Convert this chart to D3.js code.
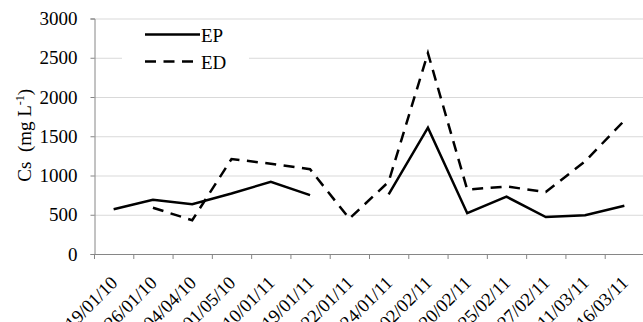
<!DOCTYPE html>
<html>
<head>
<meta charset="utf-8">
<script src="https://cdn.jsdelivr.net/npm/d3@7"></script>
<style>
  body { margin: 0; background: #fff; }
  text { font-family: "Liberation Serif", "Times New Roman", serif; fill: #000; }
</style>
</head>
<body>
<div id="chart"></div>
<script>
// sampling dates (categories)
const dates = ["19/01/10", "26/01/10", "04/04/10", "01/05/10", "10/01/11", "19/01/11", "22/01/11",
               "24/01/11", "02/02/11", "20/02/11", "25/02/11", "27/02/11", "11/03/11", "16/03/11"];
// Cs values, mg/L (null = no sample)
const epValues = [570, 690, 635, 770, 920, 750, null, 760, 1610, 520, 730, 470, 495, 615];
const edValues = [null, 590, 430, 1210, 1150, 1080, 450, 920, 2560, 820, 860, 790, 1180, 1700];
const yTicks = [0, 500, 1000, 1500, 2000, 2500, 3000];

const width = 643, height = 322;
const plotLeft = 94, plotRight = 644, plotTop = 18.5, plotBottom = 254;
const dash = "11,7.5";

const svg = d3.select("#chart").append("svg")
    .attr("width", width)
    .attr("height", height);

const x = d3.scaleBand().domain(dates).range([plotLeft, plotRight]).padding(0);
const y = d3.scaleLinear().domain([0, 3000]).range([plotBottom, plotTop]);
const cx = d => x(d) + x.bandwidth() / 2;

// gridlines
svg.append("g").selectAll("line")
    .data(yTicks.filter(t => t > 0))
    .enter().append("line")
      .attr("x1", plotLeft).attr("x2", width)
      .attr("y1", d => y(d) + 0.5).attr("y2", d => y(d) + 0.5)
      .style("stroke", "#d9d9d9").style("stroke-width", 1);

// y axis
const yAxis = svg.append("g").attr("transform", `translate(${plotLeft + 0.5},0)`)
    .call(d3.axisLeft(y).tickValues(yTicks).tickSize(4).tickPadding(13).tickFormat(d3.format("d")));
yAxis.select(".domain").style("stroke", "#868686");
yAxis.selectAll(".tick line").style("stroke", "#868686");
yAxis.selectAll(".tick text")
    .style("font-family", "Liberation Serif, serif")
    .style("font-size", "19px").style("fill", "#000");

// x axis
svg.append("line")
    .attr("x1", plotLeft).attr("x2", width)
    .attr("y1", plotBottom + 0.5).attr("y2", plotBottom + 0.5)
    .style("stroke", "#868686");
svg.append("g").selectAll("line")
    .data(dates.concat(["end"]))
    .enter().append("line")
      .attr("x1", (d, i) => (i < dates.length ? x(d) : plotRight) + 0.5)
      .attr("x2", (d, i) => (i < dates.length ? x(d) : plotRight) + 0.5)
      .attr("y1", plotBottom).attr("y2", plotBottom + 5)
      .style("stroke", "#868686");

svg.append("g").selectAll("text")
    .data(dates)
    .enter().append("text")
      .text(d => d)
      .attr("text-anchor", "end")
      .attr("transform", d => `translate(${cx(d) + 5},${plotBottom + 30}) rotate(-45)`)
      .style("font-size", "18.5px");

// y title
svg.append("text")
    .attr("transform", `translate(31,${(plotTop + plotBottom) / 2 - 1}) rotate(-90)`)
    .attr("text-anchor", "middle")
    .style("font-size", "19px")
    .html('Cs&#160; (mg L<tspan dy="-7" font-size="12px">-1</tspan><tspan dy="7">)</tspan>');

// lines
const line = vals => d3.line()
    .defined((d, i) => vals[i] !== null)
    .x((d, i) => cx(dates[i]))
    .y((d, i) => y(vals[i]))(vals);

svg.append("path").attr("d", line(epValues))
    .style("fill", "none").style("stroke", "#000").style("stroke-width", 2.5)
    .style("stroke-linejoin", "miter");
svg.append("path").attr("d", line(edValues))
    .style("fill", "none").style("stroke", "#000").style("stroke-width", 2.5)
    .style("stroke-dasharray", dash);

// legend
const legend = svg.append("g");
legend.append("rect")
    .attr("x", 122).attr("y", 22).attr("width", 127).attr("height", 52)
    .style("fill", "#fff");
const legendItems = [["EP", null, 34.5, 200], ["ED", dash, 61.5, 196]];
legendItems.forEach(([name, d, ly, lx2]) => {
  legend.append("line")
      .attr("x1", 145).attr("x2", lx2).attr("y1", ly).attr("y2", ly)
      .style("stroke", "#000").style("stroke-width", 2.5)
      .style("stroke-dasharray", d);
  legend.append("text")
      .attr("x", 201).attr("y", ly + 7)
      .style("font-size", "19px")
      .text(name);
});
</script>
</body>
</html>
